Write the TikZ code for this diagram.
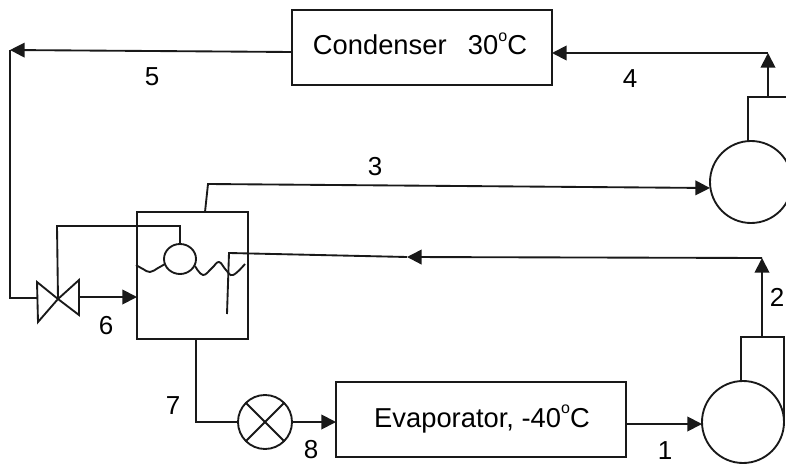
\documentclass[tikz,border=0pt]{standalone}
\usepackage{fontspec}
\setmainfont{Liberation Sans}
\usetikzlibrary{arrows.meta,shapes.geometric}
\newcommand{\degsign}{\raisebox{10pt}{\fontsize{12}{12}\selectfont o}}
\tikzset{
  px/.style={x=0.75pt,y=-0.75pt},
  pipe/.style={draw=black!90,line width=1.4pt,line join=miter},
  flow/.style={pipe,-{Triangle[length=11pt,width=11pt]}},
  unitbox/.style={draw=black!90,line width=1.4pt,rectangle,inner sep=0pt,outer sep=0pt},
  vessel/.style={draw=black!90,line width=1.4pt,circle,inner sep=0pt,outer sep=0pt,fill=white},
  floatball/.style={draw=black!90,line width=1.4pt,ellipse,inner sep=0pt,outer sep=0pt,fill=white,minimum width=24pt,minimum height=22.5pt},
  lbl/.style={font=\fontsize{19.5}{22}\selectfont,inner sep=0pt},
  unitlbl/.style={font=\fontsize{20.5}{24}\selectfont,inner sep=0pt,anchor=base}
}
\begin{document}
\begin{tikzpicture}[px]
\useasboundingbox (0,0) rectangle (786,464);
\clip (0,0) rectangle (786,464);
% units
\node[unitbox,minimum width=195pt,minimum height=56.25pt] (cond) at (422,47.5) {};
\node[unitlbl] (condt) at (420,55) {Condenser\hspace{16pt}30\degsign C};
\node[unitbox,minimum width=217.5pt,minimum height=56.25pt] (evap) at (481,419.5) {};
\node[unitlbl] (evapt) at (482,427) {Evaporator, -40\degsign C};
\node[unitbox,minimum width=83.25pt,minimum height=95.25pt] (tank) at (192.5,275.5) {};
\node[vessel,minimum size=61.5pt] (hp) at (751,182) {};
\node[vessel,minimum size=61.5pt] (lp) at (743,422) {};
\node[vessel,minimum size=40.5pt] (exp) at (265,422) {};
% coordinates
\coordinate (c5) at (10,50);
\coordinate (vl) at (37,298);
\coordinate (vc) at (58,299);
\coordinate (vr) at (79,297);
\coordinate (hpa) at (748,141);
\coordinate (hpb) at (748,97);
\coordinate (hpc) at (786,97);
\coordinate (hpo) at (768,97);
\coordinate (hpu) at (768,53);
\coordinate (lpa) at (741,381);
\coordinate (lpb) at (741,337);
\coordinate (lpc) at (784,337);
\coordinate (lpd) at (784,420);
\coordinate (lpo) at (762,337);
\coordinate (lpu) at (762,258);
\coordinate (mid) at (407,257);
\coordinate (dipb) at (227,314);
\coordinate (dipt) at (229,253);
\coordinate (t3) at (205,212);
\coordinate (t3b) at (208,184);
\coordinate (t7) at (196,339);
\coordinate (t7b) at (196,422);
\coordinate (stem) at (57,226);
\coordinate (stemb) at (180,226);
% float
\node[floatball] (ball) at (180,259) {};
% wave
\draw[pipe] plot[smooth,tension=0.7] coordinates {(136,265) (143,269) (150,272) (158,268) (165,264)};
\draw[pipe] plot[smooth,tension=0.7] coordinates {(195,266) (203,275) (212,268) (219,262) (226,270) (233,275) (245,264)};
% valve
\draw[pipe] (37,282) -- (38,322) -- (vc) -- cycle;
\draw[pipe] (79,280) -- (79,315) -- (vc) -- cycle;
% connectors
\draw[flow] (cond.west |- 0,52) -- (c5);
\draw[pipe] (c5) -- (10,298) -- (vl);
\draw[pipe] (vc) -- (stem) -- (stemb) -- (ball.north);
\draw[flow] (vr) -- (tank.west |- vr);
\draw[flow] (t3) -- (t3b) -- (hp.west |- 0,188);
\draw[pipe] (hpa) -- (hpb) -- (hpc);
\draw[flow] (hpo) -- (hpu);
\draw[flow] (hpu) -- (cond.east |- hpu);
\draw[pipe] (lpa) -- (lpb) -- (lpc) -- (lpd);
\draw[flow] (lpo) -- (lpu);
\draw[flow] (lpu) -- (mid);
\draw[pipe] (mid) -- (dipt) -- (dipb);
\draw[flow] (evap.east |- 0,424) -- (lp.west |- 0,424);
\draw[pipe] (t7) -- (t7b) -- (exp.west);
\draw[flow] (exp.east) -- (evap.west |- exp.east);
\draw[pipe] (exp.45) -- (exp.225);
\draw[pipe] (exp.135) -- (exp.315);
% labels
\node[lbl] (n1) at (665,451) {1};
\node[lbl] (n2) at (777,297) {2};
\node[lbl] (n3) at (375,167) {3};
\node[lbl] (n4) at (630,79) {4};
\node[lbl] (n5) at (152,77) {5};
\node[lbl] (n6) at (106,326) {6};
\node[lbl] (n7) at (173,406) {7};
\node[lbl] (n8) at (311,450) {8};
\end{tikzpicture}
\end{document}
